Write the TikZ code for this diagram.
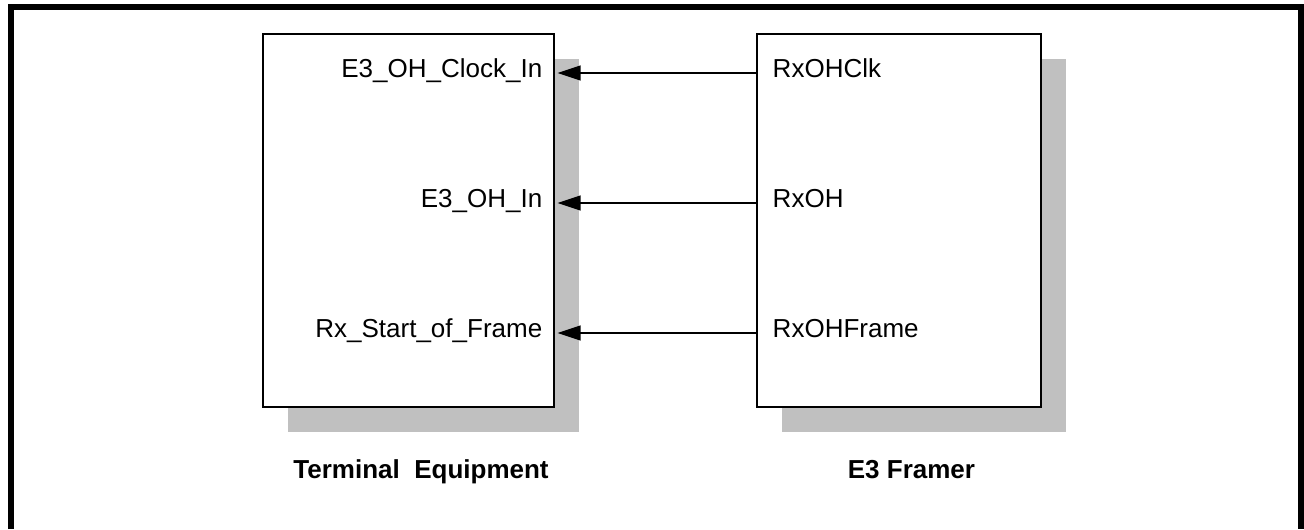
\documentclass[tikz,border=0pt]{standalone}
\usepackage{fontspec}
\setmainfont{Liberation Sans}
\usetikzlibrary{arrows.meta,positioning,shadows}
\definecolor{shadowgray}{RGB}{192,192,192}

\begin{document}
\begin{tikzpicture}[
  every node/.style = {font=\fontsize{14.8}{17}\selectfont},
  block/.style = {draw=black, line width=0.7pt, fill=white,
                  minimum width=#1, minimum height=7.46cm, inner sep=0pt,
                  drop shadow={shadow xshift=0.5cm, shadow yshift=-0.5cm,
                               fill=shadowgray, opacity=1}},
  pinlbl/.style = {inner sep=0pt},
  title/.style  = {font=\fontsize{14.8}{17}\selectfont\bfseries, inner sep=0pt},
  sig/.style    = {line width=0.8pt, -{Triangle[length=0.46cm, width=0.3cm]},
                   shorten >=0.06cm},
]

%% ── Page size: 1px = 0.02cm ─────────────────────────────────────────────────
\useasboundingbox (0,0) rectangle (26.08,-10.58);

%% ── Row y-coordinates ───────────────────────────────────────────────────────
\def\yA{-1.46}   % clock row
\def\yB{-4.06}   % overhead data row
\def\yC{-6.66}   % frame row
\def\yT{-9.56}   % title baseline

\coordinate (rowA) at (0,\yA);
\coordinate (rowB) at (0,\yB);
\coordinate (rowC) at (0,\yC);
\coordinate (rowT) at (0,\yT);

%% ── Outer frame (open at the bottom) ────────────────────────────────────────
\draw[line width=0.12cm, black]
  (0.22,-10.58) -- (0.22,-0.14) -- (26.02,-0.14) -- (26.02,-10.58);

%% ── Blocks ──────────────────────────────────────────────────────────────────
\node[block=5.82cm] (term)   at (8.17,-4.41) {};
\node[block=5.68cm] (framer) at (17.98,-4.41) {};

%% ── Terminal side pins ──────────────────────────────────────────────────────
\node[pinlbl, anchor=mid east, xshift=-0.24cm] (lclk) at (term.east |- rowA)
  {E3\_OH\_Clock\_In};
\node[pinlbl, anchor=mid east, xshift=-0.24cm] (loh)  at (term.east |- rowB)
  {E3\_OH\_In};
\node[pinlbl, anchor=mid east, xshift=-0.24cm] (lsof) at (term.east |- rowC)
  {Rx\_Start\_of\_Frame};

%% ── Framer side pins ────────────────────────────────────────────────────────
\node[pinlbl, anchor=mid west, xshift=0.32cm] (rclk) at (framer.west |- rowA)
  {RxOHClk};
\node[pinlbl, anchor=mid west, xshift=0.32cm] (roh)  at (framer.west |- rowB)
  {RxOH};
\node[pinlbl, anchor=mid west, xshift=0.32cm] (rfrm) at (framer.west |- rowC)
  {RxOHFrame};

%% ── Signals ─────────────────────────────────────────────────────────────────
\draw[sig] (framer.west |- rclk.mid west) -- (term.east |- lclk.mid east);
\draw[sig] (framer.west |- roh.mid west)  -- (term.east |- loh.mid east);
\draw[sig] (framer.west |- rfrm.mid west) -- (term.east |- lsof.mid east);

%% ── Titles ──────────────────────────────────────────────────────────────────
\node[title, anchor=base, xshift=0.25cm] (termname)   at (term.south |- rowT)
  {Terminal\ \ Equipment};
\node[title, anchor=base, xshift=0.25cm] (framername) at (framer.south |- rowT)
  {E3 Framer};

\end{tikzpicture}
\end{document}
